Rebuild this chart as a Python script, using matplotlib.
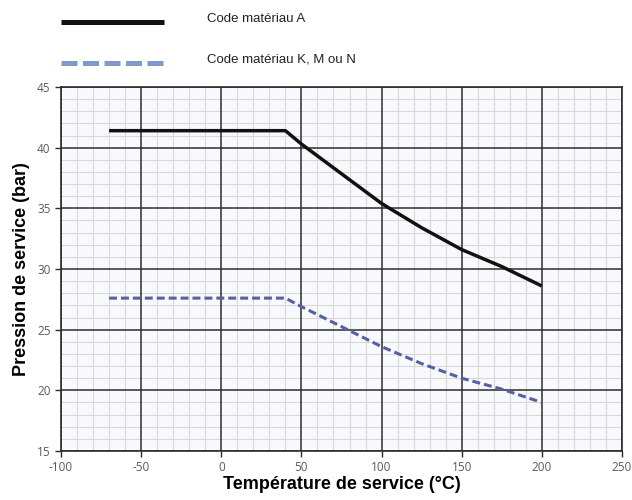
import matplotlib
matplotlib.use('Agg')
import numpy as np
import matplotlib.pyplot as plt
from matplotlib.lines import Line2D
from matplotlib.ticker import MultipleLocator

# ——— data ———
temp_a = [-70, 40, 50, 100, 125, 150, 175, 200]
pres_a = [41.4, 41.4, 40.3, 35.4, 33.4, 31.6, 30.2, 28.6]

temp_k = [-70, 40, 50, 100, 125, 150, 175, 200]
pres_k = [27.6, 27.6, 26.9, 23.6, 22.2, 21.0, 20.1, 19.0]

labels = ['Code matériau A', 'Code matériau K, M ou N']

x_major = np.arange(-100, 251, 50)
y_major = np.arange(15, 46, 5)

# ——— style ———
A_COLOR = '#111111'
K_COLOR = '#5561a2'
K_LEGEND_COLOR = '#7c9cc7'
MAJOR_GRID = '#2f2b2b'
MINOR_GRID = '#ddd6d6'
TICK_COLOR = '#5a5a5a'

plt.rcParams.update({
    'font.family': ['Liberation Sans', 'DejaVu Sans'],
    'axes.unicode_minus': False,
})

fig = plt.figure(figsize=(6.32, 5.0), dpi=100)
ax = fig.add_axes([61 / 632, 1 - 451 / 500, 561 / 632, 364 / 500])
ax.set_facecolor('#f7f9fc')

ax.plot(temp_a, pres_a, color=A_COLOR, linewidth=2.5, zorder=4,
        solid_capstyle='butt')
ax.plot(temp_k, pres_k, color=K_COLOR, linewidth=2.2, zorder=4,
        linestyle=(0, (2.6, 1.3)))

ax.set_xlim(-100, 250)
ax.set_ylim(15, 45)
ax.set_xticks(x_major)
ax.set_yticks(y_major)
ax.xaxis.set_minor_locator(MultipleLocator(10))
ax.yaxis.set_minor_locator(MultipleLocator(1))

# minor grid from the axis, major grid drawn on top of it
ax.grid(True, which='minor', color=MINOR_GRID, linewidth=0.8)
ax.grid(False, which='major')
ax.set_axisbelow(True)
for xv in x_major:
    ax.axvline(xv, color=MAJOR_GRID, linewidth=1.1, zorder=2)
for yv in y_major:
    ax.axhline(yv, color=MAJOR_GRID, linewidth=1.1, zorder=2)

for sp in ax.spines.values():
    sp.set_color(MAJOR_GRID)
    sp.set_linewidth(1.2)

ax.tick_params(which='major', direction='out', length=4, width=1.0,
               color=MAJOR_GRID, labelcolor=TICK_COLOR, labelsize=8.5)
ax.tick_params(which='minor', length=0)
for lab in ax.get_xticklabels() + ax.get_yticklabels():
    lab.set_family(['Open Sans', 'DejaVu Sans'])

ax.set_xlabel('Température de service (°C)', fontsize=13, fontweight='bold',
              labelpad=1)
ax.set_ylabel('Pression de service (bar)', fontsize=13, fontweight='bold',
              labelpad=5)

# ——— legend above the plot ———
fig.add_artist(Line2D([61 / 632, 164 / 632], [1 - 22 / 500] * 2,
                      transform=fig.transFigure, color=A_COLOR,
                      linewidth=3.6, solid_capstyle='butt'))
fig.add_artist(Line2D([61 / 632, 164 / 632], [1 - 63 / 500] * 2,
                      transform=fig.transFigure, color=K_LEGEND_COLOR,
                      linewidth=3.6, linestyle=(0, (3.2, 1.1))))
fig.text(207 / 632, 1 - 19 / 500, labels[0], fontsize=9.5, va='center',
         ha='left', color='#222222')
fig.text(207 / 632, 1 - 60 / 500, labels[1], fontsize=9.5, va='center',
         ha='left', color='#222222')

fig.savefig('out.png', dpi=100, facecolor='white')
